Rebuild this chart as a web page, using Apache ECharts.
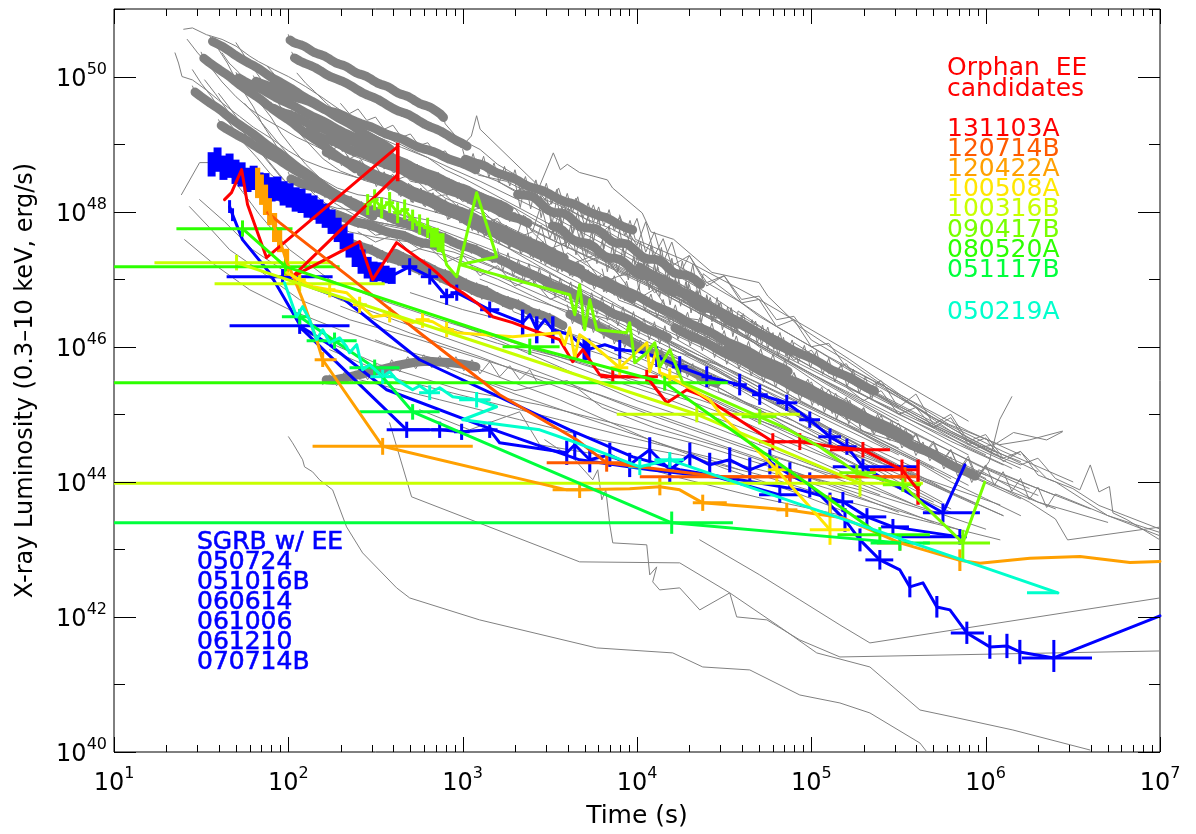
<!DOCTYPE html>
<html>
<head>
<meta charset="utf-8">
<script src="https://cdn.jsdelivr.net/npm/echarts@6/dist/echarts.min.js"></script>
<style>
  html, body { margin: 0; padding: 0; background: #ffffff; }
  #chart { width: 1196px; height: 834px; }
</style>
</head>
<body>
<div id="chart"></div>
<script>
// Swift/XRT luminosity light curves.
// Every point is [log10(t / s), log10(L / erg s^-1)], optionally followed by
// the error box [log10 t_lo, log10 t_hi, log10 L_lo, log10 L_hi].

// ---- axis ranges and tick labels (decades) ----
const timeDecades = [1, 2, 3, 4, 5, 6, 7];
const lumDecades = [40, 41, 42, 43, 44, 45, 46, 47, 48, 49, 50, 51];
const lumLabelled = [40, 42, 44, 46, 48, 50];

// ---- background sample of GRB light curves ----
const bg01 = [[2.00,50.62],[2.02,50.46],[2.04,50.55],[2.06,50.42],[2.08,50.52],[2.10,50.38],[2.12,50.46],[2.14,50.31],[2.16,50.40],[2.18,50.27],[2.20,50.37],[2.22,50.23],[2.24,50.31],[2.26,50.16],[2.28,50.25],[2.30,50.12],[2.32,50.22],[2.34,50.08],[2.36,50.16],[2.38,50.01],[2.40,50.10],[2.42,49.97],[2.44,50.07],[2.46,49.93],[2.48,50.01],[2.50,49.86],[2.52,49.95],[2.54,49.82],[2.56,49.92],[2.58,49.78],[2.60,49.86],[2.62,49.71],[2.64,49.80],[2.66,49.67],[2.68,49.77],[2.70,49.63],[2.72,49.71],[2.74,49.56],[2.76,49.65],[2.78,49.52],[2.80,49.62],[2.82,49.48],[2.84,49.56],[2.86,49.41],[2.88,49.49],[2.90,49.30],[2.95,49.15],[2.99,48.95],[3.05,49.12],[3.08,49.42],[3.10,49.22],[3.44,48.37],[3.52,48.87],[3.56,48.62],[3.60,48.70],[3.67,48.58],[3.83,48.47],[3.86,48.35],[4.03,47.98],[4.08,47.70],[4.21,47.59],[4.43,47.10],[4.70,46.95],[4.75,46.75],[4.93,46.30],[5.22,45.81],[5.51,45.29],[5.79,44.85],[6.08,44.55],[6.25,44.62],[6.44,44.75]];
const bg02 = [[2.02,50.36],[2.05,50.19],[2.08,50.27],[2.11,50.12],[2.14,50.21],[2.17,50.05],[2.20,50.12],[2.23,49.95],[2.26,50.04],[2.29,49.89],[2.32,49.98],[2.35,49.82],[2.38,49.89],[2.41,49.72],[2.44,49.80],[2.47,49.65],[2.50,49.74],[2.53,49.58],[2.56,49.65],[2.59,49.48],[2.62,49.56],[2.65,49.41],[2.68,49.51],[2.71,49.35],[2.74,49.42],[2.77,49.25],[2.80,49.33],[2.83,49.18],[2.86,49.27],[2.89,49.11],[2.92,49.18],[2.95,49.01],[2.98,49.09],[3.01,48.94],[3.04,49.00],[3.10,48.92],[3.20,48.70],[3.30,48.55],[3.45,48.30],[3.60,48.05],[3.80,47.75],[4.00,47.45],[4.20,47.10],[4.40,46.80],[4.60,46.45],[4.80,46.15],[5.00,45.85],[5.30,45.40],[5.60,44.95],[5.90,44.50],[6.15,44.20]];
const bg03 = [[1.80,50.01],[1.83,49.85],[1.86,49.94],[1.89,49.80],[1.92,49.90],[1.95,49.74],[1.98,49.82],[2.01,49.66],[2.04,49.75],[2.07,49.61],[2.10,49.71],[2.13,49.56],[2.16,49.64],[2.19,49.47],[2.22,49.56],[2.25,49.42],[2.28,49.52],[2.31,49.37],[2.34,49.45],[2.37,49.29],[2.40,49.38],[2.43,49.23],[2.46,49.33],[2.49,49.18],[2.52,49.26],[2.55,49.10],[2.58,49.19],[2.61,49.05],[2.64,49.15],[2.67,48.99],[2.70,49.07],[2.73,48.91],[2.76,49.00],[2.79,48.86],[2.82,48.96],[2.85,48.81],[2.88,48.89],[2.91,48.73],[2.94,48.82],[2.97,48.68],[3.00,48.77],[3.03,48.62],[3.06,48.70],[3.09,48.54],[3.25,48.45],[3.40,48.25],[3.55,48.10],[3.70,47.90],[3.85,47.75],[4.00,47.55],[4.20,47.25],[4.40,46.95],[4.60,46.65],[4.80,46.30],[5.00,46.00],[5.25,45.60],[5.50,45.25],[5.80,44.80],[6.05,44.45]];
const bg04 = [[1.55,50.60],[1.58,50.44],[1.61,50.52],[1.64,50.36],[1.67,50.42],[1.70,50.25],[1.73,50.32],[1.76,50.16],[1.79,50.23],[1.82,50.08],[1.85,50.14],[1.88,49.97],[1.91,50.03],[1.94,49.88],[1.97,49.95],[2.00,49.79],[2.03,49.86],[2.06,49.69],[2.09,49.75],[2.12,49.60],[2.15,49.67],[2.18,49.51],[2.21,49.57],[2.24,49.41],[2.27,49.47],[2.30,49.31],[2.33,49.39],[2.36,49.23],[2.39,49.29],[2.42,49.12],[2.45,49.19],[2.48,49.03],[2.51,49.10],[2.54,48.95],[2.57,49.01],[2.60,48.84],[2.80,48.60],[3.10,48.20],[3.50,47.70],[4.00,47.00],[4.50,46.30],[5.00,45.60],[5.50,44.90]];
const bg05 = [[1.40,50.70],[1.45,50.72],[1.53,50.62],[1.62,50.55],[1.70,50.45],[1.78,50.30],[1.83,50.22],[1.92,50.10],[2.00,50.00],[2.10,49.85],[2.20,49.68],[2.30,49.50],[2.40,49.35],[2.50,49.20],[2.60,49.05],[2.70,48.92],[2.80,48.80],[2.90,48.62],[3.00,48.50],[3.40,47.95],[3.80,47.40],[4.20,46.85],[4.60,46.30],[5.00,45.70],[5.40,45.15],[5.80,44.60],[6.10,44.25]];
const bg06 = [[1.35,50.35],[1.37,50.20],[1.39,50.00],[1.45,49.95],[1.53,49.80],[1.60,49.65],[1.72,49.41],[1.80,49.25],[1.91,49.07],[2.00,48.90],[2.10,48.75],[2.20,48.65],[2.29,48.58],[2.40,48.50],[2.55,48.40],[2.70,48.25],[2.90,48.05],[3.10,47.80],[3.30,47.55],[3.55,47.20],[3.80,46.90],[4.10,46.50],[4.40,46.10],[4.70,45.70],[5.00,45.30],[5.30,44.90],[5.60,44.50],[5.90,44.10]];
const bg07 = [[1.55,50.55],[1.60,50.40],[1.65,50.20],[1.70,49.95],[1.75,49.75],[1.80,49.55],[1.85,49.30],[1.90,49.10],[1.95,48.90],[2.00,48.70],[2.08,48.45],[2.15,48.25],[2.25,48.05],[2.40,47.90],[2.60,47.80],[2.80,47.70],[3.00,47.55],[3.30,47.25],[3.60,46.90],[3.90,46.50],[4.20,46.05],[4.50,45.60],[4.80,45.15],[5.10,44.70],[5.40,44.30]];
const bg08 = [[1.62,50.35],[1.66,50.20],[1.72,50.05],[1.78,49.85],[1.84,49.60],[1.90,49.40],[1.96,49.15],[2.02,48.95],[2.10,48.70],[2.18,48.50],[2.28,48.35],[2.40,48.25],[2.55,48.20],[2.70,48.10],[2.90,47.95],[3.10,47.75],[3.40,47.40],[3.70,47.00],[4.00,46.60],[4.30,46.15],[4.60,45.70],[4.90,45.25],[5.20,44.85],[5.50,44.45],[5.80,44.05]];
const bg09 = [[1.70,50.50],[1.75,50.30],[1.80,50.12],[1.86,49.90],[1.92,49.70],[1.98,49.45],[2.05,49.20],[2.12,49.00],[2.20,48.78],[2.30,48.60],[2.45,48.45],[2.60,48.35],[2.80,48.20],[3.00,48.00],[3.25,47.70],[3.50,47.40],[3.80,47.00],[4.10,46.60],[4.40,46.20],[4.70,45.75],[5.00,45.30],[5.30,44.90],[5.60,44.50],[5.90,44.10],[6.20,43.75]];
const bg10 = [[1.45,50.10],[1.50,49.90],[1.56,49.70],[1.62,49.45],[1.68,49.25],[1.75,49.00],[1.82,48.80],[1.90,48.55],[2.00,48.35],[2.10,48.15],[2.22,48.00],[2.35,47.90],[2.50,47.85],[2.70,47.75],[2.95,47.55],[3.20,47.30],[3.50,46.95],[3.80,46.55],[4.10,46.15],[4.40,45.75],[4.70,45.30],[5.00,44.90],[5.30,44.50],[5.60,44.10]];
const bg11 = [[1.88,50.15],[1.93,50.00],[1.98,49.80],[2.04,49.60],[2.10,49.40],[2.17,49.20],[2.25,49.00],[2.35,48.85],[2.50,48.70],[2.70,48.55],[2.90,48.40],[3.10,48.20],[3.30,47.95],[3.55,47.65],[3.85,47.25],[4.15,46.85],[4.45,46.40],[4.75,45.95],[5.05,45.50],[5.35,45.05],[5.65,44.65],[5.95,44.25],[6.25,43.90]];
const bg12 = [[2.05,50.05],[2.10,49.90],[2.15,49.78],[2.22,49.60],[2.30,49.42],[2.40,49.25],[2.52,49.10],[2.65,48.95],[2.80,48.80],[2.95,48.62],[3.10,48.45],[3.30,48.20],[3.50,47.95],[3.75,47.60],[4.00,47.25],[4.30,46.85],[4.60,46.40],[4.90,45.95],[5.20,45.55],[5.50,45.15],[5.80,44.75],[6.10,44.35]];
const bg13 = [[1.52,49.95],[1.58,49.75],[1.65,49.50],[1.72,49.25],[1.80,49.00],[1.88,48.75],[1.96,48.50],[2.05,48.30],[2.15,48.15],[2.28,48.05],[2.45,48.00],[2.65,47.95],[2.85,47.85],[3.10,47.65],[3.40,47.30],[3.70,46.90],[4.00,46.45],[4.30,46.00],[4.60,45.55],[4.90,45.10],[5.20,44.65],[5.50,44.20]];
const bg14 = [[1.60,49.75],[1.66,49.55],[1.73,49.30],[1.80,49.05],[1.87,48.80],[1.95,48.55],[2.03,48.30],[2.12,48.05],[2.22,47.85],[2.35,47.70],[2.50,47.62],[2.70,47.55],[2.95,47.40],[3.20,47.15],[3.50,46.80],[3.80,46.40],[4.10,45.95],[4.40,45.50],[4.70,45.05],[5.00,44.60],[5.30,44.20],[5.60,43.80]];
const bg15 = [[1.75,49.60],[1.82,49.40],[1.90,49.15],[1.98,48.90],[2.06,48.65],[2.15,48.40],[2.25,48.15],[2.38,47.95],[2.55,47.80],[2.75,47.70],[3.00,47.55],[3.25,47.30],[3.55,46.95],[3.85,46.55],[4.15,46.10],[4.45,45.65],[4.75,45.20],[5.05,44.80],[5.35,44.40],[5.65,44.00],[5.95,43.65]];
const bg16 = [[2.50,48.60],[2.60,48.45],[2.70,48.55],[2.80,48.30],[2.90,48.40],[3.00,48.15],[3.10,48.25],[3.20,47.95],[3.30,48.05],[3.40,47.70],[3.45,48.10],[3.50,47.60],[3.55,47.95],[3.60,47.45],[3.65,47.80],[3.70,47.30],[3.80,47.40],[3.90,47.05],[4.00,47.20],[4.10,46.80],[4.20,46.95],[4.35,46.50],[4.50,46.40],[4.70,46.00],[4.90,45.70],[5.10,45.35],[5.30,45.05],[5.50,44.70],[5.70,44.40]];
const bg17 = [[2.80,48.10],[2.90,47.95],[3.00,48.05],[3.10,47.80],[3.20,47.90],[3.30,47.55],[3.35,47.95],[3.40,47.40],[3.45,47.80],[3.50,47.30],[3.55,47.65],[3.60,47.20],[3.70,47.30],[3.80,46.95],[3.90,47.05],[4.00,46.70],[4.10,46.85],[4.20,46.45],[4.35,46.40],[4.50,46.05],[4.70,45.75],[4.90,45.40],[5.10,45.10],[5.30,44.75],[5.60,44.35],[5.90,43.95]];
const bg18 = [[3.20,48.45],[3.30,48.30],[3.40,48.40],[3.50,48.10],[3.55,48.35],[3.60,47.95],[3.65,48.20],[3.70,47.80],[3.75,48.10],[3.80,47.70],[3.90,47.90],[4.00,47.50],[4.05,47.85],[4.10,47.35],[4.15,47.60],[4.20,47.20],[4.30,47.35],[4.40,46.95],[4.50,47.05],[4.60,46.70],[4.70,46.75],[4.80,46.40],[4.90,46.45],[5.00,46.10],[5.20,45.80],[5.40,45.45],[5.60,45.10],[5.80,44.75],[6.00,44.50],[6.20,44.30]];
const bg19 = [[3.90,47.95],[3.95,47.60],[4.00,47.90],[4.05,47.40],[4.10,47.70],[4.15,47.25],[4.20,47.55],[4.25,47.10],[4.30,47.35],[4.40,46.90],[4.50,47.05],[4.60,46.65],[4.70,46.70],[4.80,46.30],[4.90,46.40],[5.00,46.00],[5.10,46.05],[5.20,45.70],[5.35,45.50],[5.50,45.25],[5.70,44.95],[5.90,44.65],[6.10,44.40],[6.30,44.15]];
const bg20 = [[2.40,47.70],[2.50,47.55],[2.60,47.65],[2.70,47.40],[2.80,47.50],[2.90,47.25],[3.00,47.35],[3.10,47.05],[3.20,47.20],[3.30,46.90],[3.40,47.00],[3.50,46.70],[3.60,46.80],[3.70,46.50],[3.85,46.40],[4.00,46.15],[4.20,45.90],[4.40,45.60],[4.60,45.35],[4.80,45.05],[5.00,44.75],[5.25,44.40],[5.50,44.05],[5.75,43.70]];
const bg21 = [[2.20,47.95],[2.30,47.80],[2.40,47.85],[2.50,47.65],[2.60,47.70],[2.75,47.45],[2.90,47.35],[3.05,47.15],[3.20,47.00],[3.40,46.75],[3.60,46.50],[3.80,46.25],[4.00,46.00],[4.25,45.65],[4.50,45.35],[4.75,45.00],[5.00,44.70],[5.25,44.35],[5.50,44.00],[5.80,43.60]];
const bg22 = [[2.60,48.00],[2.70,47.90],[2.85,47.75],[3.00,47.60],[3.15,47.45],[3.30,47.30],[3.45,47.15],[3.60,46.95],[3.80,46.70],[4.00,46.45],[4.20,46.20],[4.40,45.95],[4.60,45.65],[4.80,45.40],[5.00,45.10],[5.20,44.85],[5.40,44.55],[5.60,44.30],[5.80,44.00],[6.00,43.75],[6.20,43.50]];
const bg23 = [[3.00,47.90],[3.10,47.75],[3.20,47.85],[3.30,47.60],[3.40,47.70],[3.50,47.45],[3.60,47.55],[3.70,47.25],[3.80,47.35],[3.90,47.05],[4.00,47.10],[4.10,46.85],[4.25,46.70],[4.40,46.45],[4.60,46.20],[4.80,45.90],[5.00,45.60],[5.20,45.30],[5.40,45.00],[5.60,44.70],[5.80,44.45],[6.00,44.20],[6.20,44.00],[6.40,43.80]];
const bg24 = [[4.80,46.10],[4.90,45.80],[5.00,45.95],[5.10,45.60],[5.20,45.75],[5.30,45.35],[5.40,45.50],[5.50,45.10],[5.60,45.30],[5.70,44.85],[5.80,45.00],[5.90,44.60],[6.00,44.70],[6.10,44.35],[6.20,44.45],[6.30,44.10],[6.40,44.00],[6.55,43.75],[6.70,43.50],[6.85,43.35],[7.00,43.20]];
const bg25 = [[5.20,45.40],[5.30,45.20],[5.40,45.35],[5.50,45.00],[5.60,45.10],[5.70,44.80],[5.80,44.95],[5.90,44.55],[6.00,44.65],[6.10,44.30],[6.20,44.45],[6.35,44.05],[6.50,43.90],[6.65,43.65],[6.80,43.50],[7.00,43.30]];
const bg26 = [[5.60,44.95],[5.80,44.70],[5.95,44.50],[6.05,44.55],[6.16,44.73],[6.35,44.62],[6.44,44.74]];
const bg27 = [[5.80,44.30],[5.95,44.10],[6.10,43.90],[6.25,43.70],[6.40,43.45],[6.47,43.14],[7.00,43.33]];
const bg28 = [[5.90,44.60],[6.05,44.40],[6.20,44.25],[6.30,44.35],[6.40,44.05],[6.54,43.88],[6.60,44.25],[6.65,43.85],[6.71,43.93],[6.73,43.54],[6.81,43.44],[7.00,43.14]];
const bg29 = [[5.60,44.60],[5.80,44.30],[5.95,44.05],[6.02,44.30],[6.08,44.92],[6.15,45.26]];
const bg30 = [[1.42,50.55],[1.48,50.35],[1.55,50.15],[1.62,49.92],[1.70,49.70],[1.78,49.52],[1.86,49.38],[1.95,49.25],[2.05,49.10],[2.15,48.98],[2.25,48.85],[2.40,48.65],[2.55,48.45],[2.70,48.25],[2.85,48.05],[3.00,47.85],[3.20,47.55],[3.40,47.25],[3.60,46.95],[3.80,46.65],[4.00,46.35],[4.30,45.90],[4.60,45.50],[4.90,45.05],[5.20,44.65],[5.50,44.25],[5.80,43.85]];
const bg31 = [[1.95,49.55],[2.00,49.40],[2.05,49.48],[2.10,49.30],[2.15,49.35],[2.20,49.15],[2.25,49.20],[2.30,49.00],[2.35,49.05],[2.40,48.85],[2.45,48.90],[2.50,48.72],[2.55,48.75],[2.60,48.58],[2.65,48.62],[2.70,48.45],[2.80,48.40],[2.90,48.20],[3.00,48.10],[3.20,47.85],[3.40,47.60],[3.60,47.30],[3.80,47.00],[4.00,46.70],[4.30,46.25],[4.60,45.85],[4.90,45.45],[5.20,45.00],[5.50,44.60]];
const bg32 = [[2.10,49.20],[2.15,49.05],[2.20,49.12],[2.25,48.92],[2.30,48.98],[2.35,48.78],[2.40,48.85],[2.45,48.62],[2.50,48.68],[2.55,48.48],[2.60,48.55],[2.65,48.35],[2.70,48.40],[2.80,48.20],[2.90,48.25],[3.00,48.00],[3.10,48.05],[3.20,47.80],[3.35,47.65],[3.50,47.45],[3.70,47.15],[3.90,46.85],[4.10,46.55],[4.40,46.15],[4.70,45.70],[5.00,45.30],[5.30,44.90],[5.60,44.50],[5.90,44.10]];
const bg33 = [[2.30,49.60],[2.35,49.45],[2.40,49.52],[2.45,49.35],[2.50,49.40],[2.55,49.22],[2.60,49.28],[2.65,49.10],[2.70,49.15],[2.75,48.98],[2.80,49.02],[2.85,48.85],[2.90,48.90],[2.95,48.70],[3.00,48.75],[3.10,48.55],[3.20,48.45],[3.35,48.25],[3.50,48.05],[3.70,47.75],[3.90,47.45],[4.10,47.15],[4.40,46.70],[4.70,46.25],[5.00,45.80],[5.30,45.35],[5.60,44.95],[5.90,44.55],[6.20,44.20]];
const bg34 = [[2.197,45.437],[2.237,45.585],[2.277,45.422],[2.323,45.630],[2.363,45.467],[2.409,45.689],[2.455,45.511],[2.501,45.748],[2.547,45.570],[2.593,45.807],[2.639,45.630],[2.685,45.852],[2.731,45.674],[2.777,45.881],[2.823,45.689],[2.869,45.867],[2.915,45.674],[2.961,45.852],[3.007,45.644],[3.053,45.807],[3.099,45.600],[3.155,45.778],[3.212,45.556],[3.270,45.719],[3.327,45.511],[3.385,45.659],[3.425,45.481]];
const bg35 = [[1.387,48.252],[1.491,48.726],[1.565,48.726],[1.663,48.548],[1.835,47.956],[2.007,47.437],[2.237,46.993],[2.524,46.696],[2.868,46.400],[3.327,46.030],[3.786,45.659],[4.360,45.215],[4.934,44.696],[5.508,44.178],[6.082,43.659]];
const bg36 = [[1.433,48.074],[1.548,47.763],[1.663,47.437],[1.852,47.096],[2.065,46.696],[2.351,46.400],[2.753,46.104],[3.212,45.733],[3.786,45.289],[4.360,44.770],[4.934,44.252],[5.393,43.807]];
const bg37 = [[1.491,48.178],[1.634,47.852],[1.795,47.437],[2.007,47.067],[2.294,46.696],[2.638,46.370],[3.097,45.956],[3.556,45.511],[4.073,44.993],[4.647,44.474],[5.221,44.030]];
const bg38 = [[1.405,47.585],[1.577,47.215],[1.778,46.844],[2.007,46.548],[2.294,46.252],[2.638,45.956],[3.097,45.659],[3.556,45.215],[4.073,44.622],[4.589,44.178]];
const bg39 = [[2.237,45.956],[2.638,45.511],[3.097,45.215],[3.556,44.919],[4.016,44.622],[4.475,44.326],[4.934,44.030],[5.393,43.659],[5.852,43.289]];
const bg40 = [[2.409,45.511],[2.868,45.215],[3.327,44.919],[3.786,44.622],[4.245,44.400],[4.704,44.104],[5.163,43.733],[5.622,43.437],[6.082,43.141]];
const bg41 = [[2.065,46.252],[2.524,45.733],[2.983,45.363],[3.442,45.141],[3.901,44.844],[4.360,44.548],[4.819,44.178],[5.278,43.881],[5.737,43.511]];
const bg42 = [[2.753,45.067],[3.040,44.770],[3.327,45.037],[3.442,44.548],[3.786,44.400],[4.245,44.059],[4.704,43.763],[5.163,43.511]];
const bg43 = [[2.001,44.667],[2.024,44.578],[2.082,44.326],[2.093,44.222],[2.139,44.148],[2.179,44.030],[2.254,43.881],[2.334,43.333],[2.426,42.948],[2.621,42.430],[2.696,42.281],[3.097,41.956],[3.769,41.541],[4.205,41.467],[4.377,41.259],[4.647,41.215],[4.934,40.844],[5.164,40.726],[5.336,40.578],[5.623,40.133],[5.663,40.000]];
const bg44 = [[2.581,44.874],[2.707,43.778],[3.671,42.815],[4.245,42.800],[4.532,42.356],[4.819,41.852],[5.031,41.467],[5.336,41.259],[5.623,40.622],[5.812,40.519],[6.156,40.326],[6.598,40.030]];
const bg45 = [[3.471,44.622],[3.643,44.326],[3.746,44.030],[3.775,44.178],[3.798,43.733],[3.821,43.881],[3.844,43.363],[3.861,43.096],[4.056,43.067],[4.073,42.622],[4.113,42.741],[4.090,42.519],[4.130,42.400],[4.245,42.430],[4.360,42.104],[4.532,42.356],[4.572,42.000],[4.745,41.956],[4.934,41.659],[5.164,41.407],[7.000,41.496]];
const bg46 = [[4.360,43.141],[4.704,42.622],[4.934,42.252],[5.164,41.881],[5.336,41.615],[7.000,42.281]];
const bg47 = [[2.20,48.99],[2.235,48.77],[2.27,48.90],[2.305,48.68],[2.34,48.83],[2.375,48.62],[2.41,48.76],[2.445,48.53],[2.48,48.66],[2.515,48.44],[2.55,48.59],[2.585,48.38],[2.62,48.52],[2.655,48.29],[2.69,48.42],[2.725,48.20],[2.76,48.35],[2.795,48.14],[2.83,48.28],[2.865,48.05],[2.90,48.18],[2.935,47.96],[2.97,48.11],[3.005,47.90],[3.04,48.04],[3.075,47.81],[3.11,47.94],[3.145,47.72],[3.18,47.87],[3.215,47.66],[3.25,47.80],[3.285,47.57],[3.32,47.70],[3.355,47.48],[3.39,47.63],[3.425,47.42],[3.46,47.56],[3.495,47.33],[3.53,47.46],[3.565,47.24],[3.60,47.39],[3.90,46.90],[4.30,46.35],[4.70,45.80],[5.10,45.25],[5.50,44.70]];
const bg48 = [[2.40,48.70],[2.435,48.46],[2.47,48.61],[2.505,48.37],[2.54,48.54],[2.575,48.31],[2.61,48.47],[2.645,48.22],[2.68,48.37],[2.715,48.13],[2.75,48.30],[2.785,48.07],[2.82,48.23],[2.855,47.98],[2.89,48.13],[2.925,47.89],[2.96,48.06],[2.995,47.83],[3.03,47.99],[3.065,47.74],[3.10,47.89],[3.135,47.65],[3.17,47.82],[3.205,47.59],[3.24,47.75],[3.275,47.50],[3.31,47.65],[3.345,47.41],[3.38,47.58],[3.415,47.35],[3.45,47.51],[3.485,47.26],[3.52,47.41],[3.555,47.17],[3.59,47.34],[3.625,47.11],[3.66,47.27],[3.695,47.02],[4.00,46.70],[4.40,46.20],[4.80,45.65],[5.20,45.10],[5.60,44.55],[6.00,44.05]];
const bg49 = [[1.90,49.62],[1.93,49.44],[1.96,49.54],[1.99,49.38],[2.02,49.50],[2.05,49.32],[2.08,49.42],[2.11,49.24],[2.14,49.34],[2.17,49.18],[2.20,49.30],[2.23,49.12],[2.26,49.22],[2.29,49.04],[2.32,49.14],[2.35,48.98],[2.38,49.10],[2.41,48.92],[2.44,49.02],[2.47,48.84],[2.50,48.94],[2.53,48.78],[2.56,48.90],[2.59,48.72],[2.62,48.82],[2.65,48.64],[2.68,48.74],[2.71,48.58],[2.74,48.70],[2.77,48.52],[2.80,48.62],[2.83,48.44],[2.86,48.54],[2.89,48.38],[2.92,48.50],[2.95,48.32],[2.98,48.42],[3.01,48.23],[3.04,48.34],[3.07,48.18],[3.10,48.29],[3.13,48.12],[3.16,48.22],[3.19,48.03],[3.50,47.60],[4.00,47.00],[4.50,46.40],[5.00,45.70],[5.50,45.00],[6.00,44.40]];
const bg50 = [[2.10,49.28],[2.13,49.09],[2.16,49.21],[2.19,49.01],[2.22,49.15],[2.25,48.97],[2.28,49.10],[2.31,48.89],[2.34,49.01],[2.37,48.82],[2.40,48.96],[2.43,48.78],[2.46,48.90],[2.49,48.70],[2.52,48.82],[2.55,48.63],[2.58,48.76],[2.61,48.58],[2.64,48.71],[2.67,48.51],[2.70,48.62],[2.73,48.43],[2.76,48.57],[2.79,48.39],[2.82,48.52],[2.85,48.31],[2.88,48.43],[2.91,48.24],[2.94,48.38],[2.97,48.19],[3.00,48.32],[3.03,48.12],[3.06,48.24],[3.09,48.04],[3.12,48.18],[3.15,48.00],[3.18,48.13],[3.21,47.92],[3.24,48.04],[3.27,47.85],[3.30,47.99],[3.33,47.81],[3.36,47.93],[3.39,47.73],[3.70,47.35],[4.10,46.85],[4.50,46.30],[5.00,45.60],[5.50,44.95],[5.90,44.40]];
const bg51 = [[2.00,48.58],[2.03,48.39],[2.06,48.51],[2.09,48.32],[2.12,48.46],[2.15,48.28],[2.18,48.41],[2.21,48.21],[2.24,48.33],[2.27,48.14],[2.30,48.28],[2.33,48.10],[2.36,48.23],[2.39,48.03],[2.42,48.15],[2.45,47.96],[2.48,48.10],[2.51,47.92],[2.54,48.05],[2.57,47.85],[2.60,47.97],[2.63,47.78],[2.66,47.92],[2.69,47.74],[2.72,47.87],[2.75,47.67],[2.78,47.79],[2.81,47.60],[2.84,47.74],[2.87,47.56],[2.90,47.69],[2.93,47.49],[2.96,47.61],[2.99,47.42],[3.02,47.56],[3.05,47.38],[3.08,47.51],[3.11,47.31],[3.14,47.43],[3.17,47.24],[3.20,47.38],[3.50,46.95],[3.90,46.45],[4.30,45.95],[4.70,45.40],[5.10,44.90],[5.50,44.40]];
const bg52 = [[2.60,48.52],[2.635,48.24],[2.67,48.41],[2.705,48.14],[2.74,48.35],[2.775,48.09],[2.81,48.27],[2.845,47.98],[2.88,48.16],[2.915,47.88],[2.95,48.09],[2.985,47.83],[3.02,48.01],[3.055,47.72],[3.09,47.90],[3.125,47.63],[3.16,47.83],[3.195,47.57],[3.23,47.76],[3.265,47.46],[3.30,47.64],[3.335,47.37],[3.37,47.57],[3.405,47.31],[3.44,47.50],[3.475,47.21],[3.51,47.38],[3.545,47.11],[3.58,47.32],[3.615,47.05],[3.65,47.24],[3.685,46.95],[3.72,47.12],[3.755,46.85],[3.79,47.06],[3.825,46.80],[3.86,46.98],[3.895,46.69],[4.20,46.40],[4.60,45.90],[5.00,45.35],[5.40,44.85],[5.80,44.35]];
const bg53 = [[3.30,48.45],[3.33,48.06],[3.36,48.44],[3.39,48.04],[3.42,48.40],[3.45,47.91],[3.48,48.25],[3.51,47.78],[3.54,48.19],[3.57,47.78],[3.60,48.16],[3.63,47.68],[3.66,48.00],[3.69,47.56],[3.72,47.96],[3.75,47.55],[3.78,47.94],[3.81,47.45],[3.84,47.79],[3.87,47.33],[3.90,47.73],[3.93,47.34],[3.96,47.70],[3.99,47.22],[4.02,47.56],[4.05,47.09],[4.08,47.50],[4.11,47.09],[4.14,47.47],[4.17,46.99],[4.20,47.31],[4.23,46.87],[4.26,47.27],[4.29,46.86],[4.32,47.22],[4.35,46.76],[4.38,47.08],[4.70,46.45],[5.10,45.85],[5.50,45.30],[5.90,44.75],[6.20,44.40]];
const bg54 = [[3.50,48.00],[3.53,47.58],[3.56,47.96],[3.59,47.48],[3.62,47.80],[3.65,47.36],[3.68,47.75],[3.71,47.33],[3.74,47.72],[3.77,47.23],[3.80,47.57],[3.83,47.11],[3.86,47.51],[3.89,47.11],[3.92,47.47],[3.95,46.99],[3.98,47.33],[4.01,46.85],[4.04,47.26],[4.07,46.84],[4.10,47.22],[4.13,46.74],[4.16,47.06],[4.19,46.62],[4.22,47.02],[4.25,46.60],[4.28,46.96],[4.31,46.50],[4.34,46.83],[4.37,46.37],[4.40,46.77],[4.43,46.37],[4.46,46.73],[4.49,46.25],[4.52,46.59],[4.55,46.15],[4.58,46.53],[4.90,45.95],[5.30,45.40],[5.70,44.85],[6.10,44.35]];
const bg55 = [[3.20,47.45],[3.23,47.12],[3.26,47.39],[3.29,47.04],[3.32,47.29],[3.35,46.96],[3.38,47.23],[3.41,46.91],[3.44,47.17],[3.47,46.83],[3.50,47.07],[3.53,46.74],[3.56,47.02],[3.59,46.69],[3.62,46.96],[3.65,46.61],[3.68,46.85],[3.71,46.53],[3.74,46.80],[3.77,46.48],[3.80,46.74],[3.83,46.39],[3.86,46.64],[3.89,46.31],[3.92,46.59],[3.95,46.26],[3.98,46.52],[4.01,46.18],[4.04,46.42],[4.07,46.10],[4.10,46.37],[4.13,46.04],[4.16,46.31],[4.19,45.96],[4.50,45.70],[4.90,45.20],[5.30,44.70],[5.70,44.20]];
const bg56 = [[3.80,47.15],[3.835,46.81],[3.87,47.05],[3.905,46.71],[3.94,46.97],[3.975,46.64],[4.01,46.89],[4.045,46.54],[4.08,46.78],[4.115,46.44],[4.15,46.70],[4.185,46.37],[4.22,46.62],[4.255,46.27],[4.29,46.51],[4.325,46.17],[4.36,46.43],[4.395,46.10],[4.43,46.35],[4.465,46.00],[4.50,46.24],[4.535,45.90],[4.57,46.16],[4.605,45.83],[4.64,46.08],[4.675,45.73],[4.71,45.97],[4.745,45.63],[4.78,45.89],[4.815,45.56],[4.85,45.81],[4.885,45.46],[5.20,45.15],[5.60,44.60],[6.00,44.10]];
const bg57 = [[4.20,46.45],[4.235,46.11],[4.27,46.35],[4.305,46.01],[4.34,46.27],[4.375,45.94],[4.41,46.19],[4.445,45.84],[4.48,46.08],[4.515,45.74],[4.55,46.00],[4.585,45.67],[4.62,45.92],[4.655,45.57],[4.69,45.81],[4.725,45.47],[4.76,45.73],[4.795,45.40],[4.83,45.65],[4.865,45.30],[4.90,45.54],[4.935,45.20],[4.97,45.46],[5.005,45.13],[5.04,45.38],[5.075,45.03],[5.11,45.27],[5.145,44.93],[5.18,45.19],[5.215,44.86],[5.25,45.11],[5.285,44.76],[5.60,44.50],[6.00,44.00],[6.40,43.60]];
const bg58 = [[4.50,46.12],[4.54,45.83],[4.58,46.01],[4.62,45.72],[4.66,45.92],[4.70,45.64],[4.74,45.82],[4.78,45.52],[4.82,45.70],[4.86,45.41],[4.90,45.61],[4.94,45.33],[4.98,45.52],[5.02,45.22],[5.06,45.40],[5.10,45.11],[5.14,45.31],[5.18,45.02],[5.22,45.21],[5.26,44.91],[5.30,45.09],[5.34,44.80],[5.38,45.00],[5.42,44.72],[5.46,44.91],[5.50,44.61],[5.54,44.79],[5.58,44.50],[5.90,44.20],[6.30,43.80]];
const bg59 = [[4.90,45.62],[4.95,45.32],[5.00,45.48],[5.05,45.18],[5.10,45.37],[5.15,45.07],[5.20,45.25],[5.25,44.93],[5.30,45.10],[5.35,44.80],[5.40,44.98],[5.45,44.69],[5.50,44.87],[5.55,44.55],[5.60,44.72],[5.65,44.42],[5.70,44.60],[5.75,44.31],[5.80,44.48],[5.85,44.17],[5.90,44.34],[5.95,44.03],[6.00,44.22],[6.30,43.90],[6.60,43.60]];
const bg60 = [[2.30,47.68],[2.33,47.49],[2.36,47.61],[2.39,47.42],[2.42,47.56],[2.45,47.38],[2.48,47.51],[2.51,47.31],[2.54,47.43],[2.57,47.24],[2.60,47.38],[2.63,47.20],[2.66,47.33],[2.69,47.13],[2.72,47.25],[2.75,47.06],[2.78,47.20],[2.81,47.02],[2.84,47.15],[2.87,46.95],[2.90,47.07],[2.93,46.88],[2.96,47.02],[2.99,46.84],[3.02,46.97],[3.05,46.77],[3.08,46.89],[3.11,46.70],[3.14,46.84],[3.17,46.66],[3.20,46.79],[3.23,46.59],[3.26,46.71],[3.29,46.52],[3.60,46.20],[4.00,45.75],[4.40,45.25],[4.80,44.75],[5.20,44.25]];
const bg61 = [[5.30,45.02],[5.35,44.73],[5.40,44.90],[5.45,44.61],[5.50,44.80],[5.55,44.52],[5.60,44.70],[5.65,44.40],[5.70,44.57],[5.75,44.28],[5.80,44.47],[5.85,44.19],[5.90,44.38],[5.95,44.07],[6.00,44.25],[6.05,43.95],[6.10,44.15],[6.15,43.86],[6.20,44.05],[6.25,43.74],[6.30,43.92],[6.35,43.62],[6.40,43.82],[6.70,43.50],[7.00,43.25]];
const bg62 = [[3.00,48.92],[3.03,48.63],[3.06,48.86],[3.09,48.58],[3.12,48.82],[3.15,48.51],[3.18,48.72],[3.21,48.43],[3.24,48.67],[3.27,48.38],[3.30,48.62],[3.33,48.31],[3.36,48.52],[3.39,48.23],[3.42,48.47],[3.45,48.19],[3.48,48.42],[3.51,48.11],[3.54,48.33],[3.57,48.03],[3.60,48.27],[3.63,47.99],[3.66,48.22],[3.69,47.91],[3.72,48.13],[3.75,47.84],[3.78,48.07],[3.81,47.79],[3.84,48.03],[3.87,47.71],[3.90,47.93],[3.93,47.64],[3.96,47.87],[3.99,47.59],[4.30,47.25],[4.70,46.70],[5.10,46.10],[5.50,45.50],[5.90,44.90]];
const bg63 = [[2.30,46.60],[2.70,46.20],[3.10,45.85],[3.50,45.45],[3.90,45.05],[4.30,44.70],[4.70,44.35],[5.10,43.95],[5.50,43.55]];
const bg64 = [[2.50,46.10],[2.90,45.70],[3.30,45.30],[3.70,44.95],[4.10,44.60],[4.50,44.20],[4.90,43.85],[5.30,43.45]];
const bg65 = [[2.80,46.50],[3.20,46.10],[3.60,45.65],[4.00,45.20],[4.40,44.85],[4.80,44.45],[5.20,44.05],[5.60,43.65],[6.00,43.30]];
const bg66 = [[3.00,45.60],[3.30,45.35],[3.60,45.50],[3.80,45.10],[4.10,44.80],[4.50,44.50],[4.90,44.15],[5.30,43.80],[5.70,43.40]];
const bg67 = [[1.45,49.86],[1.48,49.68],[1.51,49.74],[1.54,49.57],[1.57,49.63],[1.60,49.47],[1.63,49.52],[1.66,49.34],[1.69,49.40],[1.72,49.23],[1.75,49.29],[1.78,49.13],[1.81,49.18],[1.84,49.01],[1.87,49.06],[1.90,48.89],[1.93,48.96],[1.96,48.79],[1.99,48.84],[2.02,48.67],[2.05,48.72],[2.08,48.55],[2.11,48.62],[2.14,48.45],[2.17,48.50],[2.20,48.33],[2.23,48.38],[2.26,48.22],[2.29,48.28],[2.60,47.90],[3.00,47.50],[3.50,46.90],[4.00,46.30],[4.50,45.70],[5.00,45.10],[5.50,44.50]];
const bg68 = [[1.50,50.36],[1.53,50.18],[1.56,50.24],[1.59,50.07],[1.62,50.13],[1.65,49.97],[1.68,50.02],[1.71,49.84],[1.74,49.90],[1.77,49.73],[1.80,49.79],[1.83,49.63],[1.86,49.68],[1.89,49.50],[1.92,49.56],[1.95,49.39],[1.98,49.45],[2.01,49.29],[2.04,49.34],[2.07,49.16],[2.10,49.22],[2.13,49.05],[2.16,49.11],[2.19,48.95],[2.22,49.00],[2.25,48.82],[2.28,48.88],[2.31,48.71],[2.34,48.77],[2.37,48.61],[2.40,48.66],[2.80,48.20],[3.20,47.70],[3.60,47.20],[4.00,46.60],[4.50,45.90],[5.00,45.20],[5.50,44.60]];
const bg69 = [[1.60,49.36],[1.63,49.19],[1.66,49.26],[1.69,49.10],[1.72,49.17],[1.75,49.02],[1.78,49.08],[1.81,48.91],[1.84,48.98],[1.87,48.82],[1.90,48.89],[1.93,48.74],[1.96,48.80],[1.99,48.63],[2.02,48.70],[2.05,48.54],[2.08,48.61],[2.11,48.46],[2.14,48.52],[2.17,48.35],[2.20,48.42],[2.23,48.26],[2.26,48.33],[2.29,48.18],[2.32,48.24],[2.35,48.07],[2.38,48.14],[2.41,47.98],[2.44,48.05],[2.47,47.90],[2.50,47.96],[2.90,47.50],[3.30,47.05],[3.70,46.60],[4.10,46.10],[4.60,45.45],[5.10,44.80],[5.60,44.20]];
const bg70 = [[1.70,50.06],[1.73,49.90],[1.76,49.97],[1.79,49.82],[1.82,49.90],[1.85,49.75],[1.88,49.82],[1.91,49.66],[1.94,49.73],[1.97,49.58],[2.00,49.66],[2.03,49.51],[2.06,49.58],[2.09,49.42],[2.12,49.49],[2.15,49.34],[2.18,49.42],[2.21,49.27],[2.24,49.34],[2.27,49.18],[2.30,49.25],[2.33,49.10],[2.36,49.18],[2.39,49.03],[2.42,49.10],[2.45,48.94],[2.48,49.01],[2.51,48.86],[2.54,48.94],[2.57,48.79],[2.60,48.86],[3.00,48.35],[3.40,47.85],[3.80,47.30],[4.20,46.75],[4.70,46.05],[5.20,45.40],[5.70,44.80]];
const bg71 = [[3.00,48.00],[3.03,47.76],[3.06,47.91],[3.09,47.68],[3.12,47.85],[3.15,47.63],[3.18,47.79],[3.21,47.54],[3.24,47.70],[3.27,47.46],[3.30,47.64],[3.33,47.41],[3.36,47.57],[3.39,47.33],[3.42,47.48],[3.45,47.25],[3.48,47.42],[3.51,47.19],[3.54,47.36],[3.57,47.11],[3.60,47.27],[3.63,47.03],[3.66,47.20],[3.69,46.98],[3.72,47.14],[3.75,46.90],[3.78,47.05],[3.81,46.81],[3.84,46.99],[3.87,46.76],[3.90,46.93],[3.93,46.68],[3.96,46.83],[3.99,46.60],[4.40,46.10],[4.80,45.60],[5.20,45.05],[5.60,44.50]];
const bg72 = [[4.00,47.35],[4.03,47.01],[4.06,47.25],[4.09,46.91],[4.12,47.18],[4.15,46.84],[4.18,47.10],[4.21,46.75],[4.24,46.99],[4.27,46.65],[4.30,46.92],[4.33,46.58],[4.36,46.84],[4.39,46.49],[4.42,46.73],[4.45,46.39],[4.48,46.66],[4.51,46.32],[4.54,46.58],[4.57,46.23],[4.60,46.47],[4.63,46.13],[4.66,46.40],[4.69,46.06],[4.72,46.32],[4.75,45.97],[4.78,46.21],[4.81,45.87],[4.84,46.14],[4.87,45.80],[4.90,46.06],[5.30,45.40],[5.70,44.85],[6.10,44.35]];
const bg73 = [[2.60,47.48],[2.63,47.29],[2.66,47.40],[2.69,47.21],[2.72,47.35],[2.75,47.17],[2.78,47.29],[2.81,47.09],[2.84,47.21],[2.87,47.01],[2.90,47.15],[2.93,46.97],[2.96,47.09],[2.99,46.89],[3.02,47.01],[3.05,46.82],[3.08,46.95],[3.11,46.77],[3.14,46.90],[3.17,46.69],[3.20,46.81],[3.23,46.62],[3.26,46.75],[3.29,46.57],[3.32,46.70],[3.35,46.50],[3.38,46.61],[3.41,46.42],[3.44,46.56],[3.47,46.37],[3.50,46.50],[3.53,46.30],[3.56,46.41],[3.59,46.22],[4.00,45.85],[4.40,45.40],[4.80,44.95],[5.20,44.45],[5.60,44.00]];
const bg74 = [[4.400,46.75],[4.435,46.40],[4.470,46.65],[4.505,46.30],[4.540,46.57],[4.575,46.23],[4.610,46.49],[4.645,46.13],[4.680,46.38],[4.715,46.03],[4.750,46.29],[4.785,45.96],[4.820,46.21],[4.855,45.86],[4.890,46.10],[4.925,45.76],[4.960,46.02],[4.995,45.69],[5.030,45.94],[5.065,45.59],[5.100,45.83],[5.135,45.48],[5.170,45.75],[5.205,45.41],[5.240,45.67],[5.275,45.31],[5.310,45.56],[5.345,45.21],[5.380,45.48],[5.70,44.95],[6.10,44.45],[6.50,44.00]];
const bg75 = [[3.60,46.62],[3.63,46.34],[3.66,46.54],[3.69,46.26],[3.72,46.47],[3.75,46.21],[3.78,46.41],[3.81,46.12],[3.84,46.32],[3.87,46.04],[3.90,46.25],[3.93,45.99],[3.96,46.19],[3.99,45.90],[4.02,46.10],[4.05,45.82],[4.08,46.03],[4.11,45.77],[4.14,45.97],[4.17,45.68],[4.20,45.88],[4.23,45.60],[4.26,45.81],[4.29,45.55],[4.32,45.75],[4.35,45.46],[4.38,45.66],[4.41,45.38],[4.44,45.59],[4.47,45.33],[4.90,44.90],[5.30,44.40],[5.70,43.95],[6.10,43.50]];
const bg76 = [[2.50,48.97],[2.53,48.80],[2.56,48.89],[2.59,48.72],[2.62,48.84],[2.65,48.67],[2.68,48.78],[2.71,48.59],[2.74,48.69],[2.77,48.52],[2.80,48.63],[2.83,48.47],[2.86,48.58],[2.89,48.39],[2.92,48.49],[2.95,48.31],[2.98,48.43],[3.01,48.27],[3.04,48.37],[3.07,48.19],[3.10,48.29],[3.13,48.11],[3.16,48.23],[3.19,48.06],[3.22,48.17],[3.25,47.99],[3.28,48.08],[3.60,47.60],[4.00,47.10],[4.50,46.45],[5.00,45.80],[5.50,45.10]];
const bg77 = [[1.95,48.27],[1.98,48.11],[2.01,48.21],[2.04,48.05],[2.07,48.17],[2.10,48.02],[2.13,48.14],[2.16,47.96],[2.19,48.07],[2.22,47.91],[2.25,48.03],[2.28,47.88],[2.31,47.99],[2.34,47.82],[2.37,47.93],[2.40,47.76],[2.43,47.89],[2.46,47.73],[2.49,47.85],[2.52,47.68],[2.55,47.78],[2.58,47.62],[2.61,47.74],[2.64,47.59],[2.67,47.71],[2.70,47.53],[2.73,47.64],[2.76,47.47],[2.79,47.60],[2.82,47.45],[2.85,47.56],[2.88,47.39],[3.20,47.05],[3.60,46.60],[4.00,46.10],[4.50,45.50],[5.00,44.90]];
const bg78 = [[5.00,45.42],[5.04,45.13],[5.08,45.31],[5.12,45.01],[5.16,45.21],[5.20,44.93],[5.24,45.12],[5.28,44.82],[5.32,44.99],[5.36,44.70],[5.40,44.90],[5.44,44.62],[5.48,44.81],[5.52,44.50],[5.56,44.68],[5.60,44.39],[5.64,44.59],[5.68,44.31],[5.72,44.49],[5.76,44.19],[5.80,44.37],[5.84,44.08],[5.88,44.28],[5.92,43.99],[5.96,44.18],[6.30,43.70],[6.70,43.40]];
const bg79 = [[2.70,46.80],[3.00,46.55],[3.30,46.35],[3.60,46.05],[3.90,45.80],[4.20,45.50],[4.50,45.15],[4.80,44.80],[5.10,44.45],[5.40,44.05],[5.70,43.70]];
const bg80 = [[2.90,46.30],[3.20,46.05],[3.50,45.85],[3.80,45.55],[4.10,45.30],[4.40,45.00],[4.70,44.70],[5.00,44.35],[5.30,44.00],[5.60,43.65]];
const bg81 = [[3.10,47.00],[3.40,46.70],[3.70,46.45],[4.00,46.10],[4.30,45.75],[4.60,45.40],[4.90,45.00],[5.20,44.60],[5.50,44.20],[5.80,43.85],[6.10,43.50]];
const bg82 = [[3.40,45.95],[3.70,45.75],[4.00,45.45],[4.30,45.20],[4.60,44.90],[4.90,44.55],[5.20,44.25],[5.50,43.90],[5.80,43.55]];
const backgroundCurves = [bg01,bg02,bg03,bg04,bg05,bg06,bg07,bg08,bg09,bg10,bg11,bg12,bg13,bg14,bg15,bg16,bg17,bg18,bg19,bg20,bg21,bg22,bg23,bg24,bg25,bg26,bg27,bg28,bg29,bg30,bg31,bg32,bg33,bg34,bg35,bg36,bg37,bg38,bg39,bg40,bg41,bg42,bg43,bg44,bg45,bg46,bg47,bg48,bg49,bg50,bg51,bg52,bg53,bg54,bg55,bg56,bg57,bg58,bg59,bg60,bg61,bg62,bg63,bg64,bg65,bg66,bg67,bg68,bg69,bg70,bg71,bg72,bg73,bg74,bg75,bg76,bg77,bg78,bg79,bg80,bg81,bg82];

// ---- short GRBs with extended emission ----
const sgrbA = [[1.560,48.70,1.540,1.580,48.52,48.88],[1.594,48.77,1.574,1.614,48.59,48.95],[1.628,48.65,1.608,1.648,48.47,48.83],[1.663,48.68,1.643,1.683,48.50,48.86],[1.697,48.59,1.677,1.717,48.41,48.77],[1.732,48.55,1.712,1.752,48.37,48.73],[1.766,48.47,1.746,1.786,48.29,48.65],[1.801,48.50,1.781,1.821,48.32,48.68],[1.835,48.40,1.815,1.855,48.22,48.58],[1.869,48.39,1.849,1.889,48.21,48.57],[1.904,48.33,1.884,1.924,48.15,48.51],[1.938,48.34,1.918,1.958,48.16,48.52],[1.973,48.27,1.953,1.993,48.09,48.45],[2.007,48.24,1.987,2.027,48.06,48.42],[2.042,48.18,2.022,2.062,48.00,48.36],[2.076,48.16,2.056,2.096,47.98,48.34],[2.110,48.09,2.090,2.130,47.91,48.27],[2.145,48.06,2.125,2.165,47.88,48.24],[2.179,48.00,2.159,2.199,47.82,48.18],[2.214,47.94,2.194,2.234,47.76,48.12],[2.248,47.85,2.228,2.268,47.67,48.03],[2.283,47.73,2.263,2.303,47.55,47.91],[2.317,47.62,2.297,2.337,47.44,47.80],[2.351,47.50,2.331,2.371,47.32,47.68],[2.386,47.36,2.366,2.406,47.18,47.54],[2.420,47.26,2.400,2.440,47.08,47.44],[2.455,47.17,2.435,2.475,47.01,47.33],[2.489,47.11,2.469,2.509,46.96,47.26],[2.524,47.11,2.504,2.544,46.97,47.25],[2.558,47.07,2.538,2.578,46.94,47.20],[2.593,47.05,2.573,2.613,46.93,47.17],[2.696,47.185,2.65,2.74,47.06,47.31],[2.811,47.037,2.76,2.86,46.92,47.16],[2.908,46.741,2.87,2.95,46.62,46.86],[2.966,46.800,2.93,3.00,46.68,46.92],[3.155,46.548,3.10,3.21,46.43,46.67],[3.344,46.356,3.337,3.351,46.15,46.55],[3.385,46.474],[3.425,46.252,3.418,3.432,46.05,46.45],[3.471,46.400],[3.517,46.252,3.510,3.524,46.05,46.45],[3.614,46.178],[3.712,45.956,3.69,3.73,45.80,46.12],[3.815,46.030],[3.901,45.956,3.87,3.93,45.82,46.10],[4.016,45.926],[4.113,45.852,4.09,4.14,45.70,46.00],[4.245,45.704,4.20,4.29,45.55,45.86],[4.400,45.556,4.37,4.43,45.40,45.71],[4.589,45.437,4.55,4.63,45.28,45.60],[4.704,45.289,4.66,4.75,45.14,45.44],[4.859,45.170,4.80,4.92,45.05,45.29],[4.991,44.919,4.93,5.05,44.80,45.04],[5.107,44.667,5.04,5.17,44.55,44.79],[5.204,44.519,5.15,5.26,44.40,44.64],[5.296,44.222,5.123,5.606,44.10,44.34],[5.755,43.541,5.640,5.967,43.40,43.68],[5.881,44.252]];
const sgrbB = [[1.663,48.074,1.658,1.668,47.98,48.17],[1.680,47.956,1.675,1.685,47.86,48.05],[1.737,47.585],[1.892,47.096],[2.082,46.252],[2.679,44.770,2.564,2.811,44.65,44.89],[2.868,44.770,2.82,2.92,44.65,44.89],[2.994,44.741,2.95,3.04,44.62,44.86],[3.155,44.770,3.11,3.20,44.65,44.89],[3.212,44.578],[3.597,44.430,3.591,3.603,44.25,44.61],[3.643,44.548,3.637,3.649,44.36,44.73],[3.729,44.326,3.723,3.735,44.14,44.51],[3.844,44.400,3.838,3.850,44.22,44.58],[3.958,44.252,3.952,3.964,44.07,44.43],[4.073,44.474,4.067,4.079,44.29,44.66],[4.188,44.178,4.182,4.194,43.99,44.36],[4.303,44.400,4.297,4.309,44.22,44.58],[4.417,44.252,4.411,4.423,44.07,44.43],[4.532,44.326,4.526,4.538,44.14,44.51],[4.647,44.178,4.641,4.653,43.99,44.36],[4.762,44.296,4.756,4.768,44.11,44.48],[4.877,44.104,4.871,4.883,43.92,44.29],[4.991,43.956,4.985,4.997,43.77,44.14],[5.107,43.659,5.101,5.113,43.48,43.84],[5.193,43.437,5.187,5.199,43.26,43.61],[5.279,43.141,5.273,5.285,42.97,43.31],[5.393,42.844,5.31,5.47,42.70,42.99],[5.508,42.696],[5.565,42.444,5.559,5.571,42.29,42.60],[5.640,42.504],[5.720,42.148,5.714,5.726,41.99,42.31],[5.795,42.104],[5.892,41.763,5.80,5.99,41.60,41.93],[6.024,41.556,6.018,6.030,41.38,41.73],[6.122,41.570,6.116,6.128,41.39,41.75],[6.196,41.481,6.190,6.202,41.30,41.66],[6.391,41.393,6.208,6.610,41.185,41.659],[7.0,42.015]];
const sgrbC = [[1.967,47.037,1.646,2.254,46.92,47.15],[2.323,46.696],[2.753,45.807],[3.614,44.770],[3.976,44.370],[4.245,44.178],[4.589,44.030],[4.934,43.881],[5.181,43.704,5.12,5.24,43.55,43.85],[5.319,43.481,5.26,5.43,43.35,43.61],[5.468,43.333,5.40,5.56,43.21,43.45],[5.852,43.185,5.491,5.892,43.07,43.30]];
const sgrbD = [[2.065,46.311,1.663,2.351,46.19,46.43],[2.237,46.030],[2.564,45.363],[3.097,44.844],[3.671,44.326],[4.073,44.178],[4.475,44.059],[4.819,43.807,4.70,4.93,43.69,43.92]];
const sgrbCurves = [sgrbA, sgrbB, sgrbC, sgrbD];
const sgrbNames = ['SGRB w/ EE', '050724', '051016B', '060614', '061006', '061210', '070714B'];

// ---- orphan extended-emission candidates ----
const grb131103A = [[1.634,48.178],[1.674,48.281],[1.732,48.622],[1.766,48.104],[1.875,47.319],[2.627,48.963,2.620,2.635,48.45,49.02],[2.627,48.548],[2.024,47.037],[2.409,47.556],[2.484,46.993],[2.621,47.541],[2.811,47.185],[2.851,47.096],[2.925,46.919],[3.000,46.800],[3.080,46.652],[3.172,46.444],[3.287,46.356],[3.442,46.207],[3.556,46.104],[3.631,45.778],[3.689,45.956],[3.786,45.585],[3.861,45.556,3.79,3.95,45.45,45.66],[4.056,45.556,3.98,4.12,45.45,45.66],[4.113,45.363],[4.171,45.170],[4.286,45.363],[4.360,45.289],[4.515,45.037],[4.779,44.593,4.70,4.85,44.47,44.72],[4.934,44.593,4.87,5.00,44.47,44.72],[5.123,44.519],[5.296,44.474,5.107,5.451,44.36,44.59],[5.520,44.178,5.336,5.606,44.03,44.33],[5.612,43.881,5.605,5.619,43.66,44.33]];
const grb120714B = [[1.881,47.985],[1.950,47.837],[2.369,46.993],[2.753,46.207],[3.212,45.289],[3.654,44.622],[3.826,44.281,3.482,3.941,44.15,44.41],[4.475,44.074],[4.877,44.074,4.016,5.393,43.96,44.19],[5.537,44.074,5.41,5.606,43.93,44.22]];
const grb120422A = [[1.824,48.444,1.812,1.836,48.20,48.65],[1.846,48.326,1.835,1.857,48.10,48.55],[1.869,48.178,1.857,1.881,47.95,48.40],[1.892,48.000,1.881,1.903,47.80,48.20],[1.921,47.763,1.909,1.933,47.55,47.98],[1.950,47.585,1.938,1.962,47.40,47.77],[1.990,47.259,1.978,2.002,47.05,47.45],[2.024,47.067],[2.082,46.696],[2.162,46.104],[2.197,45.807,2.151,2.277,45.70,45.92],[2.541,44.526,2.139,3.058,44.40,44.65],[3.597,43.881],[3.671,43.881,3.516,3.786,43.76,44.00],[3.958,43.896],[4.131,43.926,4.125,4.137,43.80,44.06],[4.245,43.881],[4.377,43.689,4.320,4.515,43.57,43.81],[4.859,43.585,4.80,4.92,43.48,43.69],[5.180,43.467],[5.508,43.096,5.376,5.583,42.98,43.21],[5.852,42.837,5.846,5.858,42.68,43.00],[5.967,42.793],[6.254,42.867],[6.541,42.896],[6.828,42.807],[7.0,42.822]];
const grb100508A = [[1.990,47.096],[2.065,46.993,2.03,2.10,46.88,47.10],[2.139,46.889],[2.237,46.844,2.20,2.27,46.73,46.95],[2.334,46.800],[2.409,46.622,2.37,2.45,46.50,46.74],[2.484,46.444],[2.581,46.474,2.54,2.62,46.36,46.59],[2.713,46.356],[2.770,46.400,2.73,2.81,46.28,46.52],[2.828,46.370],[2.908,46.252,2.87,2.95,46.14,46.37],[2.966,46.207],[3.287,46.148],[3.556,46.207],[3.585,46.030],[3.614,46.281],[3.643,45.837],[3.671,46.178],[3.712,46.104],[3.901,45.689,3.85,3.95,45.55,45.82],[4.056,46.059],[4.073,45.630],[4.113,45.956],[4.131,45.615],[4.188,45.556,4.14,4.24,45.43,45.68],[4.320,45.363],[4.417,45.215],[4.492,44.963],[4.572,44.770],[4.802,44.178,4.75,4.86,44.00,44.35],[5.107,43.289,4.991,5.221,43.067,43.807]];
const grb100316B = [[1.703,47.244,1.232,2.254,47.13,47.36],[2.065,46.933,1.577,2.553,46.82,47.05],[4.343,45.000,3.884,4.934,44.88,45.12],[5.279,43.978,0.5,5.640,43.78,44.18]];
const grb090417B = [[2.455,48.104,2.432,2.478,47.95,48.26],[2.495,48.178,2.472,2.518,48.02,48.33],[2.535,48.059,2.512,2.561,47.90,48.21],[2.581,48.133,2.555,2.607,47.98,48.29],[2.627,47.985,2.601,2.650,47.83,48.14],[2.667,48.030,2.644,2.693,47.88,48.18],[2.713,47.881,2.687,2.736,47.73,48.03],[2.753,47.807,2.730,2.779,47.66,47.96],[2.799,47.763,2.773,2.822,47.61,47.91],[2.839,47.615,2.816,2.860,47.47,47.76],[2.874,47.541,2.854,2.893,47.40,47.68],[2.908,47.215],[2.966,47.037],[3.080,48.281],[3.195,47.333],[2.983,47.215],[3.614,46.770],[3.643,46.474],[3.671,46.919],[3.700,46.252],[3.729,46.696],[3.769,46.252],[3.941,46.207],[3.958,46.356],[3.987,45.763],[4.056,45.911],[4.102,46.059],[4.131,45.704],[4.188,45.956],[4.263,45.467],[4.704,44.963,4.60,4.80,44.85,45.08],[4.836,44.815],[5.048,44.519],[5.261,44.133,5.16,5.37,44.02,44.25],[5.525,43.956,5.41,5.63,43.85,44.06],[5.869,43.096,5.640,6.025,42.844,43.289],[5.995,43.996]];
const grb080520A = [[1.737,47.748,1.358,2.024,47.63,47.87],[1.984,47.185,0.5,2.294,47.07,47.30],[3.385,46.000,3.229,3.556,45.88,46.12],[4.159,45.467,0.5,4.521,45.35,45.58],[5.393,43.215,5.15,5.68,43.10,43.33]];
const grb051117B = [[2.065,46.444,1.963,2.122,46.33,46.56],[2.265,46.089,2.105,2.392,45.97,46.21],[2.495,45.689,2.351,2.638,45.57,45.81],[2.713,45.037,2.409,2.868,44.92,45.15],[4.199,43.393,0.5,4.55,43.23,43.56],[5.508,43.096,5.34,5.68,42.98,43.21]];
const grb050219A = [[1.978,46.948],[2.013,46.696],[2.047,46.444],[2.082,46.593],[2.122,46.400],[2.162,46.104],[2.197,46.252],[2.237,46.059],[2.294,46.133],[2.334,46.000],[2.351,45.911],[2.392,46.030],[2.426,45.659],[2.466,45.733],[2.541,45.556,2.47,2.61,45.45,45.66],[2.581,45.630],[2.621,45.511],[2.667,45.437],[2.713,45.363],[2.753,45.422],[2.811,45.319,2.75,2.87,45.21,45.43],[2.868,45.393],[2.943,45.259],[3.080,45.215,2.98,3.16,45.10,45.33],[3.195,45.111],[3.000,44.919],[3.442,44.770],[3.654,44.578],[4.016,44.222,3.95,4.08,44.10,44.34],[4.188,44.326,4.10,4.27,44.21,44.44],[4.475,44.074],[6.082,42.652],[6.415,42.356,6.237,6.415,42.356,42.356]];

const orphanNames = ['131103A', '120714B', '120422A', '100508A', '100316B', '090417B', '080520A', '051117B', '050219A'];
const orphanCurves = [grb131103A, grb120714B, grb120422A, grb100508A, grb100316B, grb090417B, grb080520A, grb051117B, grb050219A];
const orphanColours = ['#ff0000', '#ff5a00', '#ffa000', '#ffe600', '#c8ff00', '#78ff00', '#2cff00', '#00ff3c', '#00ffcc'];
const sgrbColour = '#0000ff';
const bgColour = '#808080';
const FONT = '"DejaVu Sans", sans-serif';

const chart = echarts.init(document.getElementById('chart'));

function lineSeries(data, colour, width, z) {
  return {
    type: 'line', data: data.map(p => [p[0], p[1]]), showSymbol: false, symbol: 'none',
    lineStyle: { color: colour, width: width, cap: 'round', join: 'round' }, silent: true, z: z, animation: false, clip: true
  };
}

// Runs of closely spaced samples (windowed-timing data); their scatter reads as a
// fuzzy band, so each run also gets a heavier stroke along its local mean.
function denseRuns(curve) {
  const runs = [];
  let cur = [curve[0]];
  for (let i = 1; i < curve.length; i++) {
    const dt = curve[i][0] - curve[i - 1][0];
    if (dt > 0 && dt <= 0.047) cur.push(curve[i]);
    else { if (cur.length >= 10) runs.push(cur); cur = [curve[i]]; }
  }
  if (cur.length >= 10) runs.push(cur);
  return runs;
}
function runMean(run) {
  const m = [];
  for (let i = 0; i + 1 < run.length; i++) m.push([(run[i][0] + run[i + 1][0]) / 2, (run[i][1] + run[i + 1][1]) / 2]);
  return m;
}

// Error bars: a cross for wide time bins; narrow, contiguous bins merge into a filled box
function errorSeries(data, colour, width, z) {
  return {
    type: 'custom', silent: true, z: z, clip: true, animation: false,
    data: data.filter(p => p.length === 6),
    renderItem: function (params, api) {
      const t = api.value(0), l = api.value(1);
      const a = api.coord([api.value(2), l]), b = api.coord([api.value(3), l]);
      const c = api.coord([t, api.value(4)]), d = api.coord([t, api.value(5)]);
      const w = b[0] - a[0];
      if (w < 8 && Math.abs(d[1] - c[1]) > 0.5) {
        const ww = Math.max(w + 1, width);
        const cx = (a[0] + b[0]) / 2;
        return { type: 'rect', shape: { x: cx - ww / 2, y: d[1], width: ww, height: c[1] - d[1] }, style: { fill: colour } };
      }
      const kids = [];
      if (Math.abs(w) > 0.5) kids.push({ type: 'line', shape: { x1: a[0], y1: a[1], x2: b[0], y2: b[1] }, style: { stroke: colour, lineWidth: width } });
      if (Math.abs(d[1] - c[1]) > 0.5) kids.push({ type: 'line', shape: { x1: c[0], y1: c[1], x2: d[0], y2: d[1] }, style: { stroke: colour, lineWidth: width } });
      return { type: 'group', children: kids };
    }
  };
}

// Tick marks on all four sides: decades plus 2..9 sub-decades on time, single decades on luminosity
const xTicks = [];
timeDecades.forEach(d => {
  for (let m = 1; m <= 9; m++) {
    if (d === 7 && m > 1) break;
    xTicks.push([d + Math.log10(m), m === 1 ? 1 : 0]);
  }
});
const yTicks = lumDecades.map(e => [1, e, lumLabelled.indexOf(e) >= 0 ? 1 : 0]);

const tickSeriesX = {
  type: 'custom', silent: true, z: 20, animation: false, data: xTicks,
  renderItem: function (params, api) {
    const v = api.value(0), len = api.value(1) ? 15 : 7;
    const b = api.coord([v, 40]), t = api.coord([v, 51]);
    const x = Math.round(b[0]) + 0.5;
    return { type: 'group', children: [
      { type: 'line', shape: { x1: x, y1: b[1], x2: x, y2: b[1] - len }, style: { stroke: '#000', lineWidth: 1 } },
      { type: 'line', shape: { x1: x, y1: t[1], x2: x, y2: t[1] + len }, style: { stroke: '#000', lineWidth: 1 } }
    ] };
  }
};
const tickSeriesY = {
  type: 'custom', silent: true, z: 20, animation: false, data: yTicks,
  renderItem: function (params, api) {
    const v = api.value(1), len = api.value(2) ? 22 : 11;
    const l = api.coord([1, v]), r = api.coord([7, v]);
    const y = Math.round(l[1]) + 0.5;
    return { type: 'group', children: [
      { type: 'line', shape: { x1: l[0], y1: y, x2: l[0] + len, y2: y }, style: { stroke: '#000', lineWidth: 1 } },
      { type: 'line', shape: { x1: r[0], y1: y, x2: r[0] - len, y2: y }, style: { stroke: '#000', lineWidth: 1 } }
    ] };
  }
};

const series = [];
backgroundCurves.forEach(c => {
  series.push(lineSeries(c, bgColour, 1, 1));
  denseRuns(c).forEach(r => series.push(lineSeries(runMean(r), bgColour, 9, 1)));
});
sgrbCurves.forEach(c => {
  series.push(lineSeries(c, sgrbColour, 3, 2));
  series.push(errorSeries(c, sgrbColour, 3, 2));
});
orphanCurves.forEach((c, i) => {
  series.push(lineSeries(c, orphanColours[i], 3, 3));
  series.push(errorSeries(c, orphanColours[i], 3, 3));
});
series.push(tickSeriesX, tickSeriesY);

// Legend text blocks
const graphics = [];
graphics.push({ type: 'text', x: 947, y: 68, style: { text: 'Orphan  EE', fill: '#ff0000', font: '25px ' + FONT, verticalAlign: 'middle' } });
graphics.push({ type: 'text', x: 947, y: 89, style: { text: 'candidates', fill: '#ff0000', font: '25px ' + FONT, verticalAlign: 'middle' } });
const orphanLabelY = [129, 149, 169, 189, 209, 230, 250, 270, 312];
orphanNames.forEach((n, i) => {
  graphics.push({ type: 'text', x: 947, y: orphanLabelY[i], style: { text: n, fill: orphanColours[i], font: '25px ' + FONT, verticalAlign: 'middle' } });
});
sgrbNames.forEach((n, i) => {
  graphics.push({ type: 'text', x: 197, y: 542 + i * 20.1, style: { text: n, fill: sgrbColour, font: '25px ' + FONT, verticalAlign: 'middle', stroke: sgrbColour, lineWidth: 0.6 } });
});

const labelRich = {
  b: { fontSize: 24, fontFamily: FONT, color: '#000', lineHeight: 30, verticalAlign: 'bottom' },
  s: { fontSize: 16, fontFamily: FONT, color: '#000', lineHeight: 30, verticalAlign: 'top' }
};

chart.setOption({
  animation: false,
  backgroundColor: '#ffffff',
  grid: { left: 114, right: 36, top: 9, bottom: 82, show: true, borderColor: '#000', borderWidth: 1, backgroundColor: 'transparent' },
  xAxis: {
    type: 'value', min: 1, max: 7, interval: 1,
    name: 'Time (s)', nameLocation: 'middle', nameGap: 52,
    nameTextStyle: { fontFamily: FONT, fontSize: 25, color: '#000' },
    axisLine: { show: false }, axisTick: { show: false }, splitLine: { show: false },
    axisLabel: { margin: 14, formatter: v => '{b|10}{s|' + v + '}', rich: labelRich }
  },
  yAxis: {
    type: 'value', min: 40, max: 51, interval: 1,
    name: 'X-ray Luminosity (0.3\u201310 keV, erg/s)', nameLocation: 'middle', nameGap: 76,
    nameTextStyle: { fontFamily: FONT, fontSize: 24, color: '#000' },
    axisLine: { show: false }, axisTick: { show: false }, splitLine: { show: false },
    axisLabel: { margin: 7, formatter: v => (lumLabelled.indexOf(v) >= 0 ? '{b|10}{s|' + v + '}' : ''), rich: labelRich }
  },
  graphic: graphics,
  series: series
});
</script>
</body>
</html>
